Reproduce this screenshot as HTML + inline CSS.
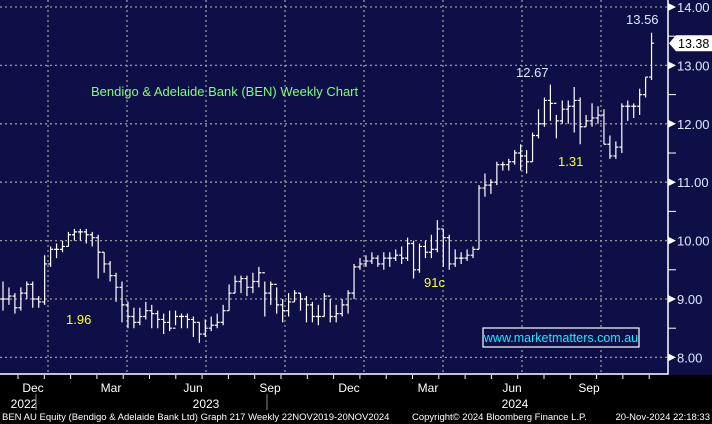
<!DOCTYPE html>
<html><head><meta charset="utf-8"><style>
body{margin:0;background:#000;}
svg{display:block;font-family:"Liberation Sans",sans-serif;}
</style></head><body>
<svg id="c" width="712" height="424">
<rect x="0" y="0" width="712" height="375" fill="#0f0f47"/>
<rect x="0" y="375" width="712" height="49" fill="#000"/>
<g id="grid"></g><g id="bars"></g><g id="axes"></g>
<text x="91" y="96" fill="#7CFF7C" font-size="13">Bendigo &amp; Adelaide Bank (BEN) Weekly Chart</text>
<text x="66" y="324" fill="#ffff33" font-size="13">1.96</text>
<text x="424" y="287" fill="#ffff33" font-size="13">91c</text>
<text x="558" y="166" fill="#ffff33" font-size="13">1.31</text>
<text x="516" y="77" fill="#dde8ff" font-size="13">12.67</text>
<text x="626" y="24" fill="#dde8ff" font-size="13">13.56</text>
<rect x="483" y="328" width="156" height="19" fill="#0f0f47" stroke="#fff" stroke-width="1.2"/>
<text x="561" y="342" fill="#19e8ff" font-size="12.5" text-anchor="middle">www.marketmatters.com.au</text>
<text x="2" y="420" fill="#fff" font-size="9.5">BEN AU Equity (Bendigo &amp; Adelaide Bank Ltd) Graph 217  Weekly 22NOV2019-20NOV2024</text>
<text x="412" y="420" fill="#fff" font-size="9.5">Copyright© 2024 Bloomberg Finance L.P.</text>
<text x="710" y="420" fill="#fff" font-size="9.5" text-anchor="end">20-Nov-2024 22:18:33</text>
</svg>
<script>
const closes=[9.0,9.05,8.85,9.1,9.25,9.0,8.95,9.6,9.85,9.85,9.9,10.1,10.15,10.15,10.1,10.05,9.8,9.6,9.4,9.2,8.9,8.7,8.6,8.7,8.8,8.75,8.65,8.6,8.5,8.7,8.7,8.65,8.6,8.4,8.5,8.55,8.6,8.8,9.1,9.3,9.35,9.2,9.3,9.45,9.1,9.25,8.9,8.8,8.95,9.1,9.0,8.9,8.7,8.7,9.05,8.7,8.75,8.9,9.1,9.55,9.6,9.65,9.7,9.6,9.7,9.7,9.75,9.7,9.95,9.5,9.9,9.8,9.85,10.2,10.05,9.6,9.7,9.7,9.75,9.85,10.9,10.95,11.0,11.3,11.3,11.35,11.5,11.45,11.35,11.8,12.0,12.4,12.35,12.05,12.25,12.3,12.4,11.95,12.05,12.1,12.15,11.65,11.45,11.6,12.3,12.3,12.3,12.5,12.8,13.38];
const highs=[9.3,9.2,9.1,9.2,9.3,9.3,9.05,9.75,9.9,9.95,10.0,10.15,10.2,10.2,10.2,10.15,10.1,9.8,9.65,9.45,9.3,8.95,8.85,8.85,8.95,8.9,8.8,8.75,8.8,8.8,8.75,8.75,8.7,8.6,8.65,8.7,8.75,8.9,9.25,9.4,9.4,9.4,9.45,9.55,9.3,9.3,9.2,9.0,9.1,9.15,9.1,9.05,8.95,8.9,9.1,9.0,8.9,9.0,9.15,9.6,9.7,9.75,9.8,9.75,9.8,9.8,9.85,9.9,10.05,10.0,9.95,10.0,10.1,10.35,10.2,10.1,9.85,9.8,9.85,9.9,10.95,11.15,11.05,11.35,11.35,11.4,11.55,11.65,11.55,11.85,12.25,12.45,12.67,12.15,12.4,12.4,12.63,12.45,12.15,12.35,12.3,12.25,11.8,11.7,12.35,12.4,12.35,12.6,12.8,13.56];
const lows=[8.8,8.9,8.75,8.8,9.0,8.85,8.85,8.9,9.55,9.7,9.8,9.9,10.0,10.0,9.95,9.9,9.35,9.45,9.3,8.95,8.6,8.5,8.5,8.55,8.65,8.5,8.5,8.4,8.45,8.55,8.5,8.5,8.35,8.25,8.35,8.45,8.5,8.55,8.8,9.1,9.1,9.05,9.1,9.2,8.7,8.9,8.75,8.6,8.7,8.95,8.8,8.6,8.6,8.55,8.7,8.6,8.6,8.7,8.75,9.0,9.5,9.55,9.6,9.55,9.5,9.55,9.65,9.6,9.65,9.35,9.45,9.7,9.7,9.8,9.55,9.5,9.55,9.6,9.65,9.7,9.85,10.75,10.8,10.95,11.2,11.2,11.3,11.2,11.15,11.35,11.75,11.95,12.05,11.75,12.0,12.0,11.85,11.65,11.95,11.95,12.0,11.65,11.4,11.4,11.5,12.05,12.1,12.15,12.45,12.75];
const yTicks=[8,9,10,11,12,13,14];
const monthLabels=["Dec","Mar","Jun","Sep","Dec","Mar","Jun","Sep"];
const monthX=[33,111,193,270,349,428,512,589];
const yearLabels=["2022","2023","2024"];
const NS="http://www.w3.org/2000/svg";
function Y(p){return 7+(14-p)*58.4;}
function X(i){return 3+i*5.95;}
function mk(t,a,parent){const e=document.createElementNS(NS,t);for(const k in a)e.setAttribute(k,a[k]);document.getElementById(parent).appendChild(e);return e;}
yTicks.forEach(v=>{const l=mk('line',{x1:0,x2:668,y1:Y(v),y2:Y(v),stroke:'#9a9a9a','stroke-dasharray':'2,3','stroke-width':1.3},'grid');

});
[48,127,206,285,364,443,522,601].forEach(x=>{const l=mk('line',{x1:x,x2:x,y1:0,y2:374,stroke:'#9a9a9a','stroke-dasharray':'2,3','stroke-width':1.3},'grid');

});
const n=Math.min(closes.length,highs.length,lows.length);
for(let i=0;i<n;i++){const x=X(i),o=i?closes[i-1]:closes[i],c=closes[i];
const g=mk('g',{stroke:'#fff','stroke-width':1.2},'bars');


const a=document.createElementNS(NS,'path');a.setAttribute('d',`M${x} ${Y(highs[i])}V${Y(lows[i])}M${x-2.5} ${Y(o)}H${x}M${x} ${Y(c)}H${x+2.5}`);a.setAttribute('fill','none');g.appendChild(a);}
mk('path',{d:'M668 0V374H0',stroke:'#fff','stroke-width':1.5,fill:'none'},'axes');
yTicks.forEach(v=>{const y=Y(v);
mk('path',{d:`M668 ${y-4}L676 ${y}L668 ${y+4}Z`,fill:'#fff'},'axes');
mk('line',{x1:668,x2:676,y1:Y(v+0.5),y2:Y(v+0.5),stroke:'#fff'},'axes');
const t=mk('text',{x:677,y:y+5,fill:'#dde8ff','font-size':13},'axes');t.textContent=v.toFixed(2);

});
const py=Y(closes[closes.length-1]);
mk('path',{d:`M669 ${py}L676 ${py-8}H712V${py+8}H676Z`,fill:'#fff'},'axes');
const pt=mk('text',{x:678,y:py+5,fill:'#000','font-size':12.5},'axes');pt.textContent=closes[closes.length-1].toFixed(2);


for(let x=18;x<668;x+=26.3)mk('line',{x1:x,x2:x,y1:375,y2:379,stroke:'#fff'},'axes');
monthLabels.forEach((m,i)=>{const t=mk('text',{x:monthX[i],y:392,fill:'#fff','font-size':12,'text-anchor':'middle'},'axes');t.textContent=m;

});
[[24,yearLabels[0]],[206,yearLabels[1]],[515,yearLabels[2]]].forEach(([x,s])=>{const t=mk('text',{x:x,y:408,fill:'#fff','font-size':12,'text-anchor':'middle'},'axes');t.textContent=s;

});
[36,267].forEach(x=>mk('line',{x1:x,x2:x,y1:394,y2:410,stroke:'#888'},'axes'));
</script>
</body></html>
